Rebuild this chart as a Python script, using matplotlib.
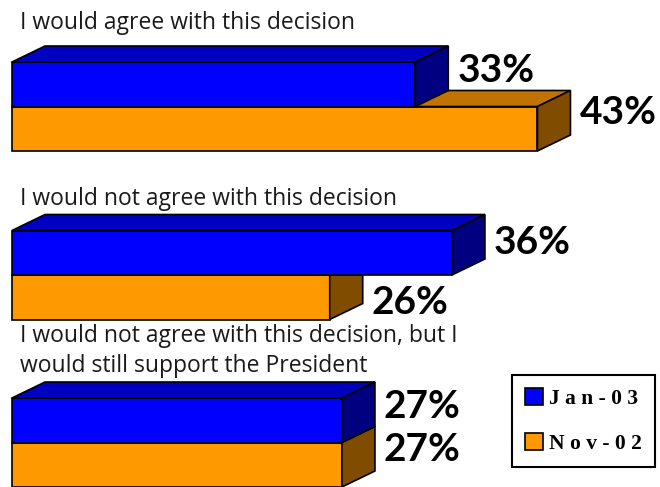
import matplotlib.pyplot as plt
from matplotlib.patches import Patch

# --- data ---
questions = [
    "I would agree with this decision",
    "I would not agree with this decision",
    "I would not agree with this decision, but I\nwould still support the President",
]
series = ["Jan-03", "Nov-02"]
jan03 = [33, 36, 27]
nov02 = [43, 26, 27]

# front / top / side shading of each series
shades = {
    "Jan-03": ("#0000FF", "#0000C0", "#000080"),
    "Nov-02": ("#FF9900", "#C07300", "#7F4C00"),
}

# --- layout (pixels) ---
PX = 12.22            # pixels per percentage point
X0 = 12               # left edge of bars
group_top = [62, 230.5, 398]
bar_h = 44.5
dx = 33 / PX
dy = 16
# label baseline relative to bottom of the front face [Jan, Nov]
label_base = [[-24, -27], [-21, -5], [-25, -26]]
title_base = [-32.7, -25.7, -56.3]
line_pitch = 30

fig = plt.figure(figsize=(6.6, 4.87), dpi=100)
ax = fig.add_axes([0, 0, 1, 1])
ax.set_xlim(-X0 / PX, (660 - X0) / PX)
ax.set_ylim(487, 0)
ax.axis("off")

label_font = dict(family=["Lato", "DejaVu Sans"], weight="bold", size=28)
title_font = dict(family=["Open Sans", "DejaVu Sans"], size=16.5)


def box(v, y0, colors, z):
    front, top, side = colors
    kw = dict(edgecolor="black", linewidth=1.2, zorder=z)
    ax.barh(y0 + bar_h / 2, v, height=bar_h, left=0, color=front, **kw)
    ax.fill([0, v, v + dx, dx], [y0, y0, y0 - dy, y0 - dy], facecolor=top, **kw)
    ax.fill([v, v + dx, v + dx, v], [y0, y0 - dy, y0 + bar_h - dy, y0 + bar_h],
            facecolor=side, **kw)


z = 2
for i, q in enumerate(questions):
    yt = group_top[i]
    # Nov-02 sits below and behind, so draw it first
    rows = [(1, nov02[i], "Nov-02", yt + bar_h), (0, jan03[i], "Jan-03", yt)]
    for k, v, s, y0 in rows:
        box(v, y0, shades[s], z)
        z += 1
        ax.text(v + dx + 9 / PX, y0 + bar_h + label_base[i][k], f"{v}%",
                ha="left", va="baseline", color="black", **label_font)
    for j, line in enumerate(q.split("\n")):
        ax.text(20 / PX - X0 / PX, yt + title_base[i] + j * line_pitch, line,
                ha="left", va="baseline", color="#1a1a1a", **title_font)

handles = [Patch(facecolor=shades[s][0], edgecolor="black", linewidth=1.2) for s in series]
leg = ax.legend(handles, [" ".join(s) for s in series], loc="upper left",
                bbox_to_anchor=(511.7 / 660, 1 - 375 / 487), borderaxespad=0,
                prop=dict(family="Liberation Serif", weight="bold", size=15.5),
                fancybox=False, framealpha=1, edgecolor="black",
                borderpad=0.6, handlelength=0.85, handleheight=0.85,
                handletextpad=0.3, labelspacing=1.1)
leg.get_frame().set_linewidth(1.5)

fig.savefig("out.png", dpi=100)
